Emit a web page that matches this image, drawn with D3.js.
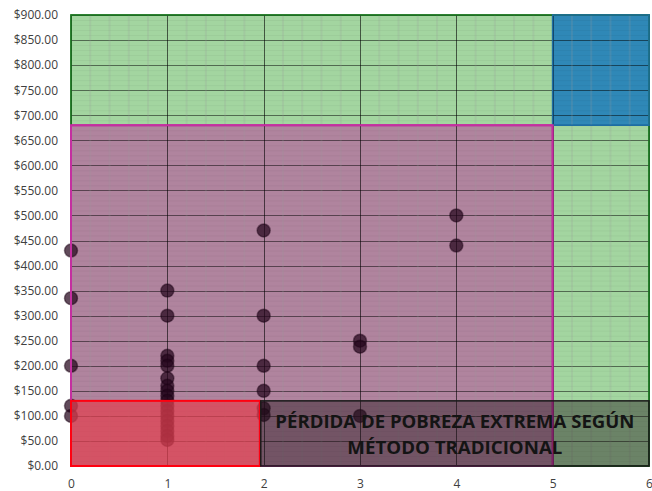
<!DOCTYPE html>
<html>
<head>
<meta charset="utf-8">
<script src="https://cdn.jsdelivr.net/npm/d3@7"></script>
<style>
  body { margin: 0; background: #fff; }
  .axis text { font-family: 'Open Sans', sans-serif; font-size: 12px; fill: #404040; }
  .axis .domain { display: none; }
</style>
</head>
<body>
<svg id="chart"></svg>
<script>
// valores
const xTicks = [0, 1, 2, 3, 4, 5, 6];
const yTicks = d3.range(0, 901, 50);

const pointX = [0, 0, 0, 0, 0,
  1, 1, 1, 1, 1, 1, 1, 1, 1, 1, 1, 1, 1, 1, 1, 1, 1, 1,
  2, 2, 2, 2, 2, 2,
  3, 3, 3,
  4, 4];
const pointY = [430, 335, 200, 120, 100,
  350, 300, 220, 210, 200, 175, 160, 150, 140, 130, 120, 110, 100, 90, 80, 70, 60, 52,
  470, 300, 200, 150, 115, 102,
  250, 238, 100,
  500, 440];

// zonas: verde, azul, morada, roja, recuadro de texto
const zoneNames = ['verde', 'azul', 'morado', 'rojo', 'texto'];
const zoneX0 = [0, 5, 0, 0, 1.97];
const zoneX1 = [6, 6, 5, 1.96, 6];
const zoneY0 = [0, 680, 0, 0, 0];
const zoneY1 = [900, 900, 680, 130, 130];

const labelLines = ['PÉRDIDA DE POBREZA EXTREMA SEGÚN', 'MÉTODO TRADICIONAL'];

const W = 652, H = 491;
const margin = { top: 15, right: 3, bottom: 25, left: 71 };
const width = W - margin.left - margin.right;
const height = H - margin.top - margin.bottom;

const svg = d3.select('#chart').attr('width', W).attr('height', H);
const g = svg.append('g').attr('transform', `translate(${margin.left},${margin.top})`);

const x = d3.scaleLinear().domain([0, 6]).range([0, width]);
const y = d3.scaleLinear().domain([0, 900]).range([height, 0]);

const zones = zoneNames.map((n, i) => ({
  name: n, x0: zoneX0[i], x1: zoneX1[i], y0: zoneY0[i], y1: zoneY1[i]
}));

const zoneStyle = {
  verde: { fill: '#a3d5a0', stroke: '#1f7a24', sw: 1.5, op: 1 },
  azul: { fill: '#2f88b7', stroke: '#1e6ea3', sw: 1.5, op: 1 },
  morado: { fill: '#b0849e', stroke: '#c42ea0', sw: 2, op: 1 },
  rojo: { fill: '#e2404f', stroke: '#ff0010', sw: 2, op: 0.72 },
  texto: { fill: '#1e1418', stroke: '#1a1a1a', sw: 1.5, op: 0.42 }
};

function drawZone(layer, z) {
  const s = zoneStyle[z.name];
  layer.append('rect')
    .attr('class', 'zone zone-' + z.name)
    .attr('x', x(z.x0))
    .attr('y', y(z.y1))
    .attr('width', x(z.x1) - x(z.x0))
    .attr('height', y(z.y0) - y(z.y1))
    .attr('fill', s.fill)
    .attr('fill-opacity', s.op)
    .attr('stroke', s.stroke)
    .attr('stroke-width', s.sw);
}

// fondos opacos
const back = g.append('g');
zones.slice(0, 3).forEach(z => drawZone(back, z));

// rejilla menor
const minorX = d3.range(0, 6.001, 0.2).filter(v => Math.abs(v - Math.round(v)) > 0.01);
const minorY = d3.range(0, 901, 10).filter(v => v % 50 !== 0);
const grid = g.append('g');
grid.selectAll('.mx').data(minorY).join('line')
  .attr('x1', 0).attr('x2', width)
  .attr('y1', d => y(d) + 0.5).attr('y2', d => y(d) + 0.5)
  .attr('stroke', '#000').attr('stroke-opacity', 0.04);

// rejilla mayor
grid.selectAll('.hy').data(yTicks).join('line')
  .attr('x1', 0).attr('x2', width)
  .attr('y1', d => Math.round(y(d)) + 0.5).attr('y2', d => Math.round(y(d)) + 0.5)
  .attr('stroke', '#000').attr('stroke-opacity', 0.5).attr('stroke-width', 1.2);
grid.selectAll('.vx').data(minorX).join('line')
  .attr('x1', d => x(d)).attr('x2', d => x(d))
  .attr('y1', 0).attr('y2', height)
  .attr('stroke', '#9a9a9a').attr('stroke-opacity', 0.2).attr('stroke-width', 2);
grid.selectAll('.vv').data(xTicks).join('line')
  .attr('x1', d => Math.round(x(d)) + 0.5).attr('x2', d => Math.round(x(d)) + 0.5)
  .attr('y1', 0).attr('y2', height)
  .attr('stroke', '#000').attr('stroke-opacity', 0.6);

// puntos
const pts = pointX.map((v, i) => ({ x: v, y: pointY[i] }));
g.append('g').selectAll('circle').data(pts).join('circle')
  .attr('cx', d => x(d.x))
  .attr('cy', d => y(d.y))
  .attr('r', 6.5)
  .attr('fill', '#24061c')
  .attr('fill-opacity', 0.72)
  .attr('stroke', '#1a0014')
  .attr('stroke-opacity', 0.45)
  .attr('stroke-width', 1.5);

// bordes de las zonas opacas encima de la rejilla
const borders = g.append('g');
zones.slice(0, 3).forEach(z => {
  const s = zoneStyle[z.name];
  borders.append('rect')
    .attr('x', x(z.x0)).attr('y', y(z.y1))
    .attr('width', x(z.x1) - x(z.x0)).attr('height', y(z.y0) - y(z.y1))
    .attr('fill', 'none').attr('stroke', s.stroke).attr('stroke-width', s.sw);
});

// zonas transparentes
const front = g.append('g');
zones.slice(3).forEach(z => drawZone(front, z));

// texto del recuadro
const tz = zones[4];
const cx = (x(tz.x0) + x(tz.x1)) / 2;
const label = g.append('g').attr('class', 'label');
label.selectAll('text').data(labelLines).join('text')
  .attr('x', cx)
  .attr('y', (d, i) => y(0) - 38 + i * 26)
  .attr('text-anchor', 'middle')
  .attr('font-family', 'Open Sans, sans-serif')
  .attr('font-weight', 'bold')
  .attr('font-size', 18.5)
  .attr('fill', '#141414')
  .attr('textLength', (d, i) => (i === 0 ? 359 : 215))
  .attr('lengthAdjust', 'spacingAndGlyphs')
  .text(d => d);

// ejes
g.append('g').attr('class', 'axis axis-y')
  .call(d3.axisLeft(y).tickValues(yTicks).tickSize(0).tickPadding(13).tickFormat(d3.format('$.2f')));

g.append('g').attr('class', 'axis axis-x')
  .attr('transform', `translate(0,${height})`)
  .call(d3.axisBottom(x).tickValues(xTicks).tickSize(0).tickPadding(13).tickFormat(d3.format('d')));
</script>
</body>
</html>
